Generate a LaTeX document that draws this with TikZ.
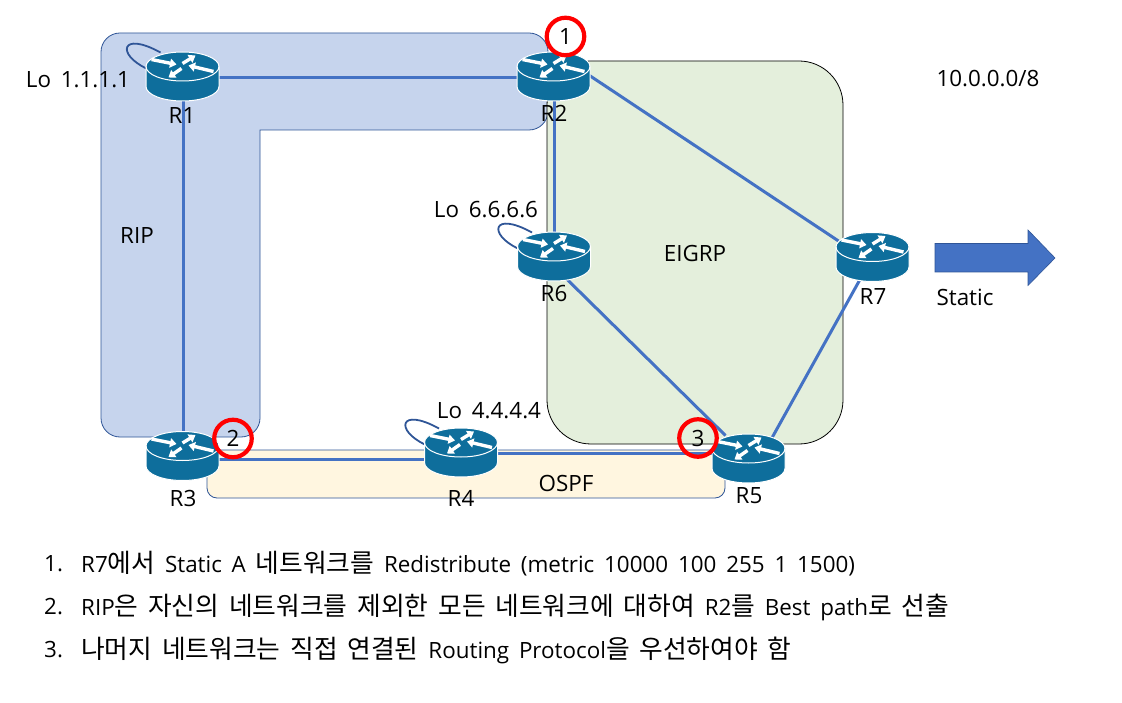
\documentclass[tikz,border=0pt]{standalone}
\usepackage{fontspec}
\setmainfont{Open Sans}
\newfontfamily\ko{Noto Sans CJK KR}[Scale=1.15]
\usetikzlibrary{calc,arrows.meta}
\definecolor{ripfill}{HTML}{C6D4ED}
\definecolor{eigfill}{HTML}{E4EFDC}
\definecolor{ospffill}{HTML}{FFF6E0}
\definecolor{arealine}{HTML}{2F5597}
\definecolor{linkblue}{HTML}{4472C4}
\definecolor{rtrblue}{HTML}{0E6E9C}
\newcommand{\txtfont}{\fontsize{22.4}{27}\selectfont\setlength{\spaceskip}{9.8pt}}
\tikzset{
  routernode/.style={inner sep=0pt,minimum width=73pt,minimum height=49pt},
  lbl/.style={inner sep=0pt,yshift=-1pt,font=\txtfont},
  listtxt/.style={inner sep=0pt,anchor=west,yshift=-1pt,font=\txtfont},
  linkline/.style={linkblue,line width=3pt},
  loopline/.style={arealine,line width=1.8pt},
  rtrarrow/.style={white,line width=3.4pt,-{Triangle[width=9pt,length=6.5pt]}},
  mark circle/.style={circle,draw=red,line width=4.2pt,minimum size=37.5pt,inner sep=0pt,font=\fontsize{22.4}{27}\selectfont},
  routericon/.pic={
    \fill[rtrblue,draw=white,line width=1pt] (-36.5,-10) .. controls (-36.5,-18) and (-20.2,-24.5) .. (0,-24.5)
      .. controls (20.2,-24.5) and (36.5,-18) .. (36.5,-10) -- (36.5,10)
      .. controls (36.5,18) and (20.2,24.5) .. (0,24.5)
      .. controls (-20.2,24.5) and (-36.5,18) .. (-36.5,10) -- cycle;
    \draw[white,line width=1pt] (-36.5,-10) .. controls (-36.5,-2) and (-20.2,4.5) .. (0,4.5)
      .. controls (20.2,4.5) and (36.5,-2) .. (36.5,-10);
    \draw[rtrarrow] (-31,-17) -- (-6,-12);
    \draw[rtrarrow] (0,-13) -- (13,-21);
    \draw[rtrarrow] (-1,-8) -- (-14,1);
    \draw[rtrarrow] (31,-5) -- (6,-11);
  }
}
\begin{document}
\begin{tikzpicture}[x=1pt,y=-1pt]
\useasboundingbox (0,0) rectangle (1122,703);
\fill[white] (0,0) rectangle (1122,703);
% areas
\path[fill=ripfill,draw=arealine,line width=0.8pt]
  (120,33) -- (529,33) .. controls (539.5,33) and (548,41.5) .. (548,52) -- (548,111)
  .. controls (548,121.5) and (539.5,130) .. (529,130) -- (260,130) -- (260,418)
  .. controls (260,428.5) and (251.5,437) .. (241,437) -- (120,437)
  .. controls (109.5,437) and (101,428.5) .. (101,418) -- (101,52)
  .. controls (101,41.5) and (109.5,33) .. (120,33) -- cycle;
\path[fill=eigfill,draw=black,line width=0.8pt,rounded corners=44pt] (547,61) rectangle (843,444);
\path[fill=ospffill,draw=arealine,line width=0.8pt,rounded corners=10pt] (207,450) rectangle (725,498);
% router nodes
\node[routernode] (R1) at (182.5,76.5) {};
\node[routernode] (R2) at (553.5,76.5) {};
\node[routernode] (R3) at (182.5,456) {};
\node[routernode] (R4) at (461,452.5) {};
\node[routernode] (R5) at (748.5,458.5) {};
\node[routernode] (R6) at (554,256.5) {};
\node[routernode] (R7) at (872.5,257) {};
% links
\draw[linkline] ($(R1)+(0,0.8)$) -- ($(R2)+(0,0.8)$);
\draw[linkline] ($(R1)+(1,0)$) -- ($(R3)+(1,0)$);
\draw[linkline] ($(R2)+(0.8,0)$) -- ($(R6)+(0.3,0)$);
\draw[linkline] ($(R2)+(36,-1)$) -- ($(R7)+(-34,-16)$);
\draw[linkline] ($(R6)+(0,10)$) -- ($(R5)+(-23,-23)$);
\draw[linkline] (R7.center) -- ($(R5)+(12,0)$);
\draw[linkline] ($(R3)+(0,3)$) -- ($(R4)+(0,6.5)$);
\draw[linkline] ($(R4)+(0,0.5)$) -- ($(R5)+(0,-5.5)$);
% loopbacks
\draw[loopline] ($(R1)+(-36,-8)$) .. controls ($(R1)+(-66,-22)$) and ($(R1)+(-62,-46)$) .. ($(R1)+(-22,-24)$);
\draw[loopline] ($(R4)+(-36,-8)$) .. controls ($(R4)+(-66,-22)$) and ($(R4)+(-62,-46)$) .. ($(R4)+(-22,-24)$);
\draw[loopline] ($(R6)+(-36,-8)$) .. controls ($(R6)+(-66,-22)$) and ($(R6)+(-62,-46)$) .. ($(R6)+(-22,-24)$);
% router icons
\foreach \r in {R1,R2,R3,R4,R5,R6,R7} { \pic at (\r) {routericon}; }
% static arrow
\fill[linkblue,draw=arealine,line width=0.6pt] (935,243.5) -- (1028,243.5) -- (1028,230) -- (1055,258) -- (1028,285.5) -- (1028,272) -- (935,272) -- cycle;
% labels
\node[lbl] (tR1) at (182,115) {R1};
\node[lbl] (tR2) at (554,112) {R2};
\node[lbl] (tR3) at (183,497) {R3};
\node[lbl] (tR4) at (461,497) {R4};
\node[lbl] (tR5) at (749,495) {R5};
\node[lbl] (tR6) at (554,293) {R6};
\node[lbl] (tR7) at (873,296) {R7};
\node[lbl] (lo1) at (78,79) {Lo 1.1.1.1};
\node[lbl] (lo6) at (486,209) {Lo 6.6.6.6};
\node[lbl] (lo4) at (489,410) {Lo 4.4.4.4};
\node[lbl] (rip) at (137,235) {RIP};
\node[lbl] (eig) at (695,253) {EIGRP};
\node[lbl] (osp) at (566,482) {OSPF};
\node[lbl] (net) at (988,78) {10.0.0.0/8};
\node[lbl] (sta) at (965,296) {Static};
% list
\node[listtxt] (n1) at (44,563) {1.};
\node[listtxt] (n2) at (44,606) {2.};
\node[listtxt] (n3) at (44,649) {3.};
\node[listtxt] (i1) at (81,563) {R7{\ko 에서} Static A {\ko 네트워크를} Redistribute (metric 10000 100 255 1 1500)};
\node[listtxt] (i2) at (81,606) {RIP{\ko 은} {\ko 자신의} {\ko 네트워크를} {\ko 제외한} {\ko 모든} {\ko 네트워크에} {\ko 대하여} R2{\ko 를} Best path{\ko 로} {\ko 선출}};
\node[listtxt] (i3) at (81,649) {{\ko 나머지} {\ko 네트워크는} {\ko 직접} {\ko 연결된} Routing Protocol{\ko 을} {\ko 우선하여야} {\ko 함}};
% marks
\node[mark circle] (m1) at (565.5,36.5) {1};
\node[mark circle] (m2) at (233,438.5) {2};
\node[mark circle] (m3) at (698,438) {3};
\end{tikzpicture}
\end{document}
